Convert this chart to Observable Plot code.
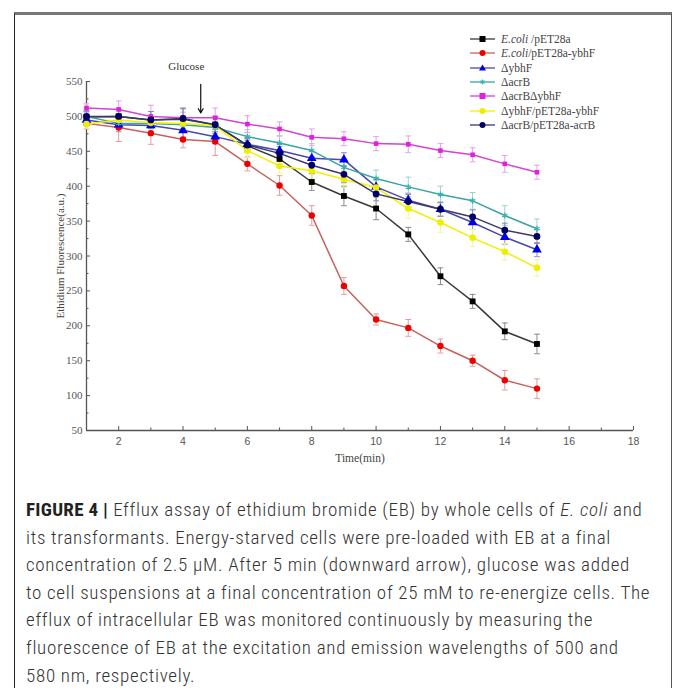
<!DOCTYPE html>
<html>
<head>
<meta charset="utf-8">
<script src="https://cdn.jsdelivr.net/npm/d3@7"></script>
<script src="https://cdn.jsdelivr.net/npm/@observablehq/plot@0.6"></script>
<style>
  html, body { margin: 0; padding: 0; background: #fff; }
  body { position: relative; width: 673px; height: 688px; overflow: hidden; }
  #frame { position: absolute; left: 14px; top: 12px; width: 656px; height: 700px;
           border-left: 1px solid #222; border-right: 1px solid #555; border-top: 3px solid #777; }
  #chart { position: absolute; left: 0; top: 0; }
  #legend { position: absolute; left: 470px; top: 32px; font-family: "Liberation Serif", "DejaVu Serif", serif;
            font-size: 11.5px; color: #444; }
  #legend .row { height: 14.3px; display: flex; align-items: center; white-space: nowrap; }
  #legend svg { margin-right: 5px; }
  #caption { position: absolute; left: 26px; top: 496px; width: 645px;
             font-family: "Liberation Sans Narrow", "Roboto Condensed", "Roboto", sans-serif;
             font-size: 19px; letter-spacing: 0.7px; line-height: 27.6px; color: #333; font-weight: 300; white-space: nowrap; }
  #caption b { font-weight: 700; color: #222; letter-spacing: 0.3px; }
</style>
</head>
<body>
<div id="frame"></div>
<div id="chart"></div>
<div id="legend"></div>
<div id="caption">
<b>FIGURE 4 |</b> Efflux assay of ethidium bromide (EB) by whole cells of <i>E. coli</i> and<br>
its transformants. Energy-starved cells were pre-loaded with EB at a final<br>
concentration of 2.5 μM. After 5 min (downward arrow), glucose was added<br>
to cell suspensions at a final concentration of 25 mM to re-energize cells. The<br>
efflux of intracellular EB was monitored continuously by measuring the<br>
fluorescence of EB at the excitation and emission wavelengths of 500 and<br>
580 nm, respectively.
</div>
<script>
// ---- data ----
const times = [1, 2, 3, 4, 5, 6, 7, 8, 9, 10, 11, 12, 13, 14, 15];

const seriesNames = ["E.coli /pET28a", "E.coli/pET28a-ybhF", "ΔybhF", "ΔacrB", "ΔacrBΔybhF", "ΔybhF/pET28a-ybhF", "ΔacrB/pET28a-acrB"];

const ecoliPET     = [499, 500, 495, 496, 488, 458, 439, 406, 386, 368, 331, 271, 235, 192, 174];
const ecoliYbhF    = [490, 484, 476, 467, 464, 432, 401, 358, 257, 209, 197, 171, 150, 122, 110];
const dYbhF        = [495, 488, 487, 480, 471, 460, 451, 440, 438, 399, 380, 367, 348, 327, 309];
const dAcrB        = [500, 490, 490, 488, 484, 471, 462, 451, 427, 411, 399, 388, 379, 358, 339];
const dAcrBdYbhF   = [512, 510, 500, 498, 498, 489, 482, 470, 468, 461, 460, 451, 445, 432, 420];
const dYbhFpET     = [489, 495, 491, 490, 487, 451, 429, 422, 410, 398, 368, 348, 326, 306, 283];
const dAcrBpET     = [500, 500, 495, 497, 488, 459, 447, 430, 417, 389, 378, 367, 356, 337, 328];

const ecoliPETErr   = [8, 10, 12, 15, 12, 8, 10, 12, 14, 16, 10, 12, 10, 12, 14];
const ecoliYbhFErr  = [8, 20, 16, 12, 20, 10, 14, 14, 12, 8, 12, 10, 8, 14, 14];
const dYbhFErr      = [8, 10, 10, 10, 10, 8, 10, 10, 10, 10, 10, 10, 10, 10, 10];
const dAcrBErr      = [8, 8, 8, 8, 8, 10, 10, 10, 12, 12, 14, 12, 12, 14, 14];
const dAcrBdYbhFErr = [6, 12, 16, 8, 14, 12, 10, 12, 10, 10, 12, 10, 10, 12, 10];
const dYbhFpETErr   = [6, 8, 10, 10, 10, 10, 10, 12, 12, 14, 14, 14, 12, 12, 12];
const dAcrBpETErr   = [8, 10, 12, 15, 10, 10, 10, 12, 12, 10, 10, 10, 10, 10, 10];

const xMajorTicks = [2, 4, 6, 8, 10, 12, 14, 16, 18];
const xMinorTicks = [3, 5, 7, 9, 11, 13, 15, 17];
const yMajorTicks = [50, 100, 150, 200, 250, 300, 350, 400, 450, 500, 550];
const yMinorTicks = [75, 125, 175, 225, 275, 325, 375, 425, 475, 525];

const xLabel = "Time(min)";
const yLabel = "Ethidium Fluorescence(a.u.)";
const glucoseNote = [{label: "Glucose", x: 4.1, y: 571, ax: 4.55, ay1: 546, ay2: 505}];

// ---- styles per series ----
const styles = [
  {line: "#3a3a3a", dot: "#000000", err: "#8a8a8a", symbol: "square", r: 3.3},
  {line: "#c9605c", dot: "#ee0000", err: "#e79a9a", symbol: "circle", r: 3.2},
  {line: "#4848b0", dot: "#0000e8", err: "#8c8cd0", symbol: "triangle", r: 3.6},
  {line: "#3aa3a3", dot: "#38b0b0", err: "#98d4d4", symbol: "asterisk", r: 2.8},
  {line: "#d244d2", dot: "#e020e0", err: "#e6a0e6", symbol: "square", r: 2.6},
  {line: "#f2f000", dot: "#eeee00", err: "#f4f49a", symbol: "circle", r: 3.3},
  {line: "#38386a", dot: "#000066", err: "#8a8aaa", symbol: "circle", r: 3.4}
];

const allValues = [ecoliPET, ecoliYbhF, dYbhF, dAcrB, dAcrBdYbhF, dYbhFpET, dAcrBpET];
const allErrs = [ecoliPETErr, ecoliYbhFErr, dYbhFErr, dAcrBErr, dAcrBdYbhFErr, dYbhFpETErr, dAcrBpETErr];

const rows = [];
seriesNames.forEach((name, i) => {
  times.forEach((t, j) => rows.push({series: name, idx: i, x: t, y: allValues[i][j], e: allErrs[i][j]}));
});

const capW = 0.09;
const marks = [];

seriesNames.forEach((name, i) => {
  const d = rows.filter(r => r.idx === i);
  const c = styles[i].err;
  marks.push(Plot.ruleX(d, {x: "x", y1: r => r.y - r.e, y2: r => r.y + r.e, stroke: c, strokeWidth: 1}));
  marks.push(Plot.link(d, {x1: r => r.x - capW, x2: r => r.x + capW, y1: r => r.y + r.e, y2: r => r.y + r.e, stroke: c, strokeWidth: 1}));
  marks.push(Plot.link(d, {x1: r => r.x - capW, x2: r => r.x + capW, y1: r => r.y - r.e, y2: r => r.y - r.e, stroke: c, strokeWidth: 1}));
});
seriesNames.forEach((name, i) => {
  const d = rows.filter(r => r.idx === i);
  marks.push(Plot.line(d, {x: "x", y: "y", stroke: styles[i].line, strokeWidth: 1.5}));
});
seriesNames.forEach((name, i) => {
  const d = rows.filter(r => r.idx === i);
  const s = styles[i];
  const isStroke = s.symbol === "asterisk";
  marks.push(Plot.dot(d, {x: "x", y: "y", symbol: () => s.symbol, r: s.r,
    fill: isStroke ? "none" : s.dot, stroke: isStroke ? s.dot : "none", strokeWidth: 1.2}));
});

const chart = Plot.plot({
  width: 673,
  height: 480,
  marginLeft: 86,
  marginRight: 40,
  marginTop: 81,
  marginBottom: 50,
  style: {fontFamily: "'Liberation Serif', 'DejaVu Serif', serif", fontSize: "11px", color: "#444", background: "transparent", overflow: "visible"},
  symbol: {type: "identity"},
  x: {domain: [1, 18]},
  y: {domain: [50, 550]},
  marks: [
    Plot.axisX({ticks: xMajorTicks, tickSize: -4, tickPadding: 11, stroke: "#555", fill: "#555",
      fontFamily: "'Liberation Sans', Arial, sans-serif", fontSize: 10.5, label: null}),
    Plot.axisX({ticks: xMinorTicks, tickSize: -2.5, stroke: "#555", text: null, label: null}),
    Plot.axisY({ticks: yMajorTicks, tickSize: -4, tickPadding: 8, stroke: "#555", fill: "#555", label: null, fontSize: 11}),
    Plot.axisY({ticks: yMinorTicks, tickSize: -2.5, stroke: "#555", text: null, label: null}),
    Plot.text([xLabel], {frameAnchor: "bottom", dy: 31, fill: "#444", fontSize: 11.5}),
    Plot.text([yLabel], {frameAnchor: "left", textAnchor: "middle", dx: -26, rotate: -90, fill: "#444", fontSize: 11}),
    Plot.ruleY([50], {stroke: "#555", strokeWidth: 1.3}),
    Plot.ruleX([1], {stroke: "#555", strokeWidth: 1.3}),
    ...marks,
    Plot.text(glucoseNote, {x: "x", y: "y", text: "label", fill: "#333", fontSize: 11}),
    Plot.arrow(glucoseNote, {x1: "ax", x2: "ax", y1: "ay1", y2: "ay2", stroke: "#111", strokeWidth: 1.2, headLength: 6})
  ]
});
document.getElementById("chart").appendChild(chart);

// ---- legend ----
const legend = document.getElementById("legend");
const shapePath = {
  square: (c) => `<rect x="9.5" y="4" width="6" height="6" fill="${c}"/>`,
  circle: (c) => `<circle cx="12.5" cy="7" r="3" fill="${c}"/>`,
  triangle: (c) => `<path d="M12.5 3.5 L16 9.5 L9 9.5 Z" fill="${c}"/>`,
  asterisk: (c) => `<path d="M10 7 H15 M12.5 4.5 V9.5 M10.7 5.2 L14.3 8.8 M14.3 5.2 L10.7 8.8" stroke="${c}" stroke-width="1"/>`
};
seriesNames.forEach((name, i) => {
  const s = styles[i];
  const row = document.createElement("div");
  row.className = "row";
  const label = name.startsWith("E.coli") ? `<i>E.coli</i>${name.slice(6)}` : name;
  row.innerHTML = `<svg width="26" height="14"><line x1="0" y1="7" x2="25" y2="7" stroke="${s.line}" stroke-width="1.3"/>${shapePath[s.symbol](s.dot)}</svg><span>${label}</span>`;
  legend.appendChild(row);
});
</script>
</body>
</html>
